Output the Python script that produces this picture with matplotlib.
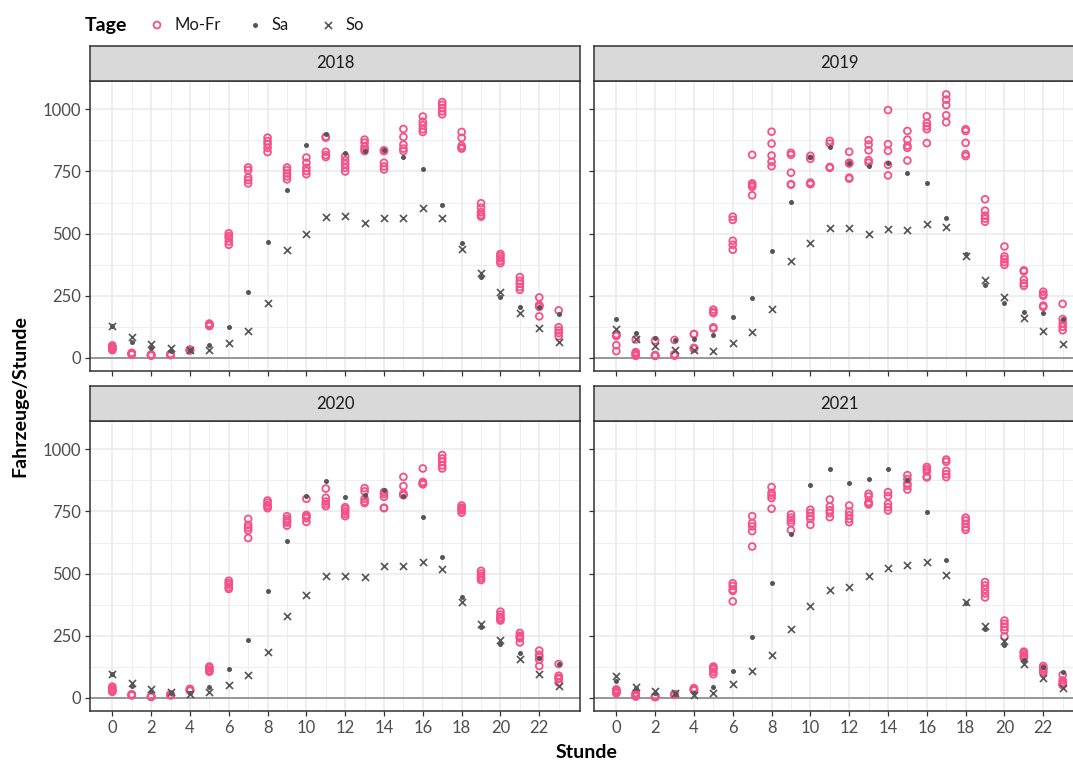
import numpy as np
import matplotlib
matplotlib.use("Agg")
import matplotlib.pyplot as plt

plt.rcParams['font.family'] = ['Lato', 'DejaVu Sans']

# ---- data (Fahrzeuge pro Stunde) ----
hours = list(range(24))
years = ['2018', '2019', '2020', '2021']

mofr_2018 = [
    [50, 45, 40, 35, 31], [20, 18, 16, 15, 14], [13, 12, 11, 10, 9], [15, 14, 13, 12, 11],
    [33, 32, 31, 30, 30], [138, 134, 132, 130, 128], [501, 490, 482, 468, 455],
    [766, 755, 726, 715, 702], [886, 872, 860, 845, 828], [766, 755, 742, 730, 718],
    [806, 785, 765, 752, 739], [890, 886, 829, 816, 808], [811, 795, 780, 765, 750],
    [878, 866, 850, 840, 832], [835, 832, 785, 770, 758], [921, 889, 858, 842, 832],
    [971, 950, 936, 920, 909], [1029, 1018, 1005, 992, 980], [909, 885, 853, 845, 842],
    [622, 604, 586, 575, 568], [418, 410, 401, 390, 381], [325, 310, 298, 285, 274],
    [243, 212, 210, 205, 167], [191, 123, 110, 100, 87],
]
sa_2018 = [130, 64, 40, 28, 31, 51, 124, 266, 465, 676, 856, 902, 826, 832, 838, 808,
           759, 615, 464, 324, 243, 205, 203, 178]
so_2018 = [130, 84, 57, 40, 30, 33, 61, 107, 221, 432, 499, 565, 571, 544, 563, 564,
           602, 563, 437, 341, 265, 180, 120, 64]

mofr_2019 = [
    [95, 90, 88, 51, 27], [74, 23, 18, 13, 8], [70, 11, 10, 9, 8], [72, 15, 12, 10, 9],
    [96, 95, 40, 38, 36], [194, 185, 180, 123, 118], [568, 555, 471, 455, 435],
    [817, 702, 695, 688, 654], [910, 862, 814, 789, 771], [825, 817, 745, 699, 697],
    [813, 801, 705, 700, 699], [873, 862, 768, 766, 765], [829, 785, 782, 725, 721],
    [876, 858, 835, 795, 785], [997, 860, 833, 777, 734], [913, 878, 854, 845, 794],
    [972, 945, 932, 920, 864], [1060, 1039, 1017, 976, 948], [920, 913, 865, 820, 812],
    [638, 592, 572, 560, 548], [448, 408, 397, 385, 374], [352, 348, 314, 300, 290],
    [266, 255, 250, 210, 205], [217, 156, 140, 125, 111],
]
sa_2019 = [156, 100, 78, 71, 75, 91, 164, 239, 430, 628, 808, 849, 783, 773, 785, 742,
           702, 564, 418, 295, 219, 183, 180, 156]
so_2019 = [116, 76, 47, 33, 31, 29, 61, 102, 197, 388, 461, 521, 524, 497, 519, 516,
           537, 528, 408, 312, 245, 162, 107, 57]

mofr_2020 = [
    [45, 38, 32, 28, 24], [14, 13, 12, 11, 10], [7, 6, 5, 5, 4], [14, 13, 12, 11, 10],
    [36, 34, 31, 30, 29], [126, 120, 112, 108, 105], [471, 462, 455, 445, 438],
    [720, 696, 685, 674, 643], [794, 785, 775, 770, 763], [731, 720, 712, 705, 693],
    [801, 736, 730, 723, 708], [842, 805, 790, 780, 771], [767, 760, 750, 740, 731],
    [844, 831, 801, 790, 784], [828, 820, 809, 765, 763], [889, 852, 822, 818, 815],
    [923, 869, 864, 862, 859], [977, 963, 950, 935, 923], [774, 765, 760, 755, 745],
    [511, 500, 490, 482, 474], [347, 335, 325, 318, 311], [261, 250, 245, 240, 223],
    [190, 173, 165, 153, 128], [136, 89, 80, 76, 62],
]
sa_2020 = [96, 49, 27, 20, 20, 45, 115, 232, 430, 631, 812, 873, 808, 817, 838, 811,
           727, 567, 404, 285, 216, 180, 161, 136]
so_2020 = [96, 59, 36, 22, 15, 22, 51, 92, 185, 328, 415, 492, 492, 486, 530, 532,
           548, 519, 386, 299, 234, 155, 95, 49]

mofr_2021 = [
    [34, 30, 25, 22, 18], [20, 15, 10, 8, 5], [6, 5, 4, 4, 3], [15, 14, 14, 13, 12],
    [39, 36, 33, 31, 30], [126, 120, 115, 105, 95], [461, 450, 436, 430, 388],
    [731, 703, 690, 671, 609], [848, 825, 815, 804, 761], [738, 725, 715, 704, 675],
    [757, 744, 730, 720, 696], [798, 770, 755, 744, 727], [774, 750, 735, 720, 707],
    [821, 810, 788, 783, 778], [828, 812, 781, 767, 754], [896, 880, 862, 853, 838],
    [929, 920, 911, 890, 887], [959, 950, 913, 900, 888], [725, 714, 700, 686, 676],
    [466, 452, 436, 420, 404], [311, 298, 285, 272, 247], [186, 180, 172, 166, 160],
    [128, 120, 115, 108, 101], [92, 70, 61, 55, 51],
]
sa_2021 = [69, 38, 20, 16, 20, 45, 109, 245, 463, 659, 858, 920, 865, 880, 920, 878,
           747, 553, 382, 277, 212, 153, 126, 105]
so_2021 = [88, 45, 27, 18, 11, 20, 55, 108, 173, 277, 369, 432, 446, 490, 524, 534,
           547, 493, 385, 288, 227, 136, 81, 41]

mofr = {'2018': mofr_2018, '2019': mofr_2019, '2020': mofr_2020, '2021': mofr_2021}
sa = {'2018': sa_2018, '2019': sa_2019, '2020': sa_2020, '2021': sa_2021}
so = {'2018': so_2018, '2019': so_2019, '2020': so_2020, '2021': so_2021}

# ---- style ----
PINK = '#f5508a'
DARK = '#555555'
GREY20 = '#333333'
GREY30 = '#4d4d4d'
GRID = '#ebebeb'

W, H = 1073, 762
fig = plt.figure(figsize=(W / 100, H / 100), dpi=100)


def px_axes(x0, y0, x1, y1):
    return fig.add_axes([x0 / W, 1 - y1 / H, (x1 - x0) / W, (y1 - y0) / H])


# panel boxes in pixels: (x0, y0, x1, y1)
px_per_hour = 19.4
left_x = (90, 580)
right_x = (594, 594 + 490)
top_y = (81, 371)
bot_y = (421, 711)
boxes = {
    '2018': (left_x, top_y),
    '2019': (right_x, top_y),
    '2020': (left_x, bot_y),
    '2021': (right_x, bot_y),
}
xlim = (-1.15, 24.1)
ylim = (-53, 1114)

for year in years:
    (x0, x1), (y0, y1) = boxes[year]
    ax = px_axes(x0, y0, x1, y1)
    ax.set_xlim(xlim)
    ax.set_ylim(ylim)
    ax.set_facecolor('white')

    ax.set_xticks(range(0, 24, 2))
    ax.set_xticks(range(1, 24, 2), minor=True)
    ax.set_yticks([0, 250, 500, 750, 1000])
    ax.set_yticks([125, 375, 625, 875], minor=True)
    ax.grid(True, which='major', color=GRID, linewidth=1.2, zorder=0)
    ax.grid(True, which='minor', color=GRID, linewidth=0.6, zorder=0)
    ax.set_axisbelow(True)
    ax.axhline(0, color='#808080', linewidth=1.1, zorder=1)

    for s in ax.spines.values():
        s.set_color(GREY20)
        s.set_linewidth(1.1)

    ax.tick_params(which='major', length=3.5, width=0.9, color=GREY20,
                   labelsize=12, labelcolor=GREY30, pad=3)
    ax.tick_params(which='minor', length=0)

    if year in ('2018', '2019'):
        ax.tick_params(axis='x', which='major', labelbottom=False)
    if year in ('2019', '2021'):
        ax.tick_params(axis='y', which='major', labelleft=False)

    # Mo-Fr: open circles
    mx = [h for h in hours for _ in mofr[year][h]]
    my = [v for h in hours for v in mofr[year][h]]
    ax.scatter(mx, my, s=24, facecolors='none', edgecolors=PINK, linewidths=1.3, zorder=3)
    ax.scatter(hours, sa[year], s=13, color=DARK, linewidths=0, zorder=4)
    ax.scatter(hours, so[year], s=26, marker='x', color=DARK, linewidths=1.2, zorder=4)

    # strip
    sax = px_axes(x0, y0 - 35, x1, y0)
    sax.set_facecolor('#d9d9d9')
    sax.set_xticks([])
    sax.set_yticks([])
    for s in sax.spines.values():
        s.set_color(GREY20)
        s.set_linewidth(1.1)
    sax.text(((left_x[1] - left_x[0]) / 2) / (x1 - x0), 0.5, year,
             transform=sax.transAxes, ha='center', va='center', fontsize=12, color='#1a1a1a')

# axis titles
fig.text(587 / W, 1 - 752 / H, 'Stunde', ha='center', va='center',
         fontsize=14, fontweight='bold')
fig.text(20 / W, 1 - 396 / H, 'Fahrzeuge/Stunde', ha='center', va='center',
         rotation=90, fontsize=14, fontweight='bold')

# legend
lax = px_axes(0, 5, W, 45)
lax.set_xlim(0, W)
lax.set_ylim(45, 5)
lax.axis('off')
lax.text(85, 25, 'Tage', ha='left', va='center', fontsize=14, fontweight='bold')
lax.scatter([157], [25], s=24, facecolors='none', edgecolors=PINK, linewidths=1.3)
lax.text(175, 25, 'Mo-Fr', ha='left', va='center', fontsize=12, color='#1a1a1a')
lax.scatter([255], [25], s=13, color=DARK, linewidths=0)
lax.text(272, 25, 'Sa', ha='left', va='center', fontsize=12, color='#1a1a1a')
lax.scatter([328], [25], s=26, marker='x', color=DARK, linewidths=1.2)
lax.text(345, 25, 'So', ha='left', va='center', fontsize=12, color='#1a1a1a')

fig.savefig('out.png', dpi=100)
